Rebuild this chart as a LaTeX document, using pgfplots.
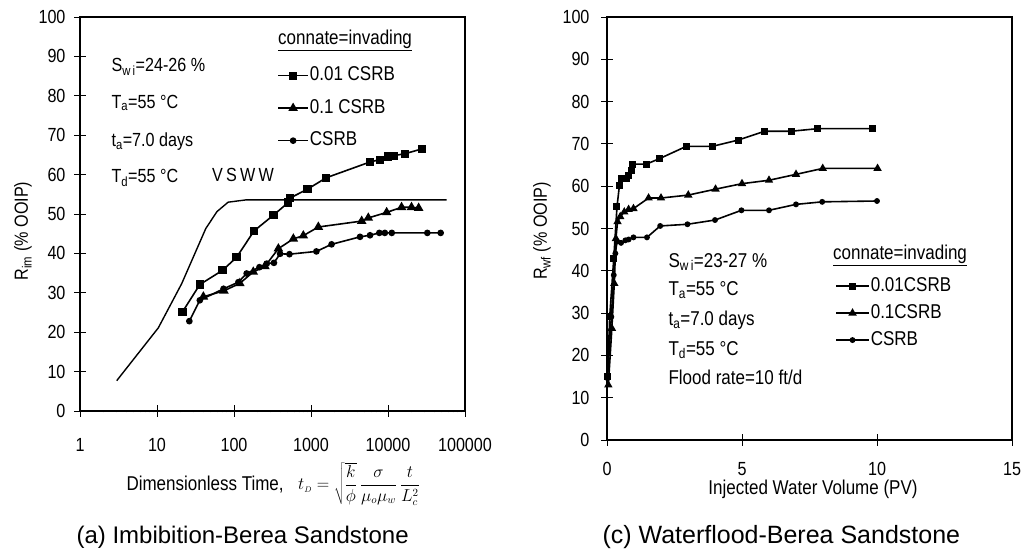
\documentclass[border=0pt]{standalone}
\usepackage{pgfplots}
\pgfplotsset{compat=1.18}
\usepackage{fontspec}
\setmainfont{Liberation Sans}
\newfontfamily\narrow{Liberation Sans}[FakeStretch=0.85]
\newcommand{\tf}{\narrow\fontsize{19}{21}\selectfont}
\newcommand{\lf}{\narrow\fontsize{20}{22}\selectfont}
\begin{document}
\begin{tikzpicture}[x=1pt,y=1pt]
\useasboundingbox (0,0) rectangle (1021,553);
% ---------------- left axis ----------------
\begin{axis}[
  at={(80pt,142pt)}, anchor=south west, scale only axis,
  width=385pt, height=394pt,
  xmode=log, xmin=1, xmax=100000, ymin=0, ymax=100,
  xtick={1,10,100,1000,10000,100000},
  xticklabels={1,10,100,1000,10000,100000},
  ytick={0,10,...,100}, minor xtick={}, minor tick num=0,
  tick align=center, xtick pos=bottom, ytick pos=left,
  major tick length=12pt, tick style={black, line width=0.8pt},
  axis line style={line width=1.8pt},
  /pgf/number format/assume math mode=true,
  tick label style={font=\tf},
  xticklabel style={yshift=-18pt},
  yticklabel style={xshift=-5pt},
  legend style={at={(axis description cs:0.512,0.877)}, anchor=north west,
     draw=none, fill=none, inner sep=0pt, row sep=12.5pt, font=\lf,
     nodes={inner sep=1pt, text height=14pt, text depth=4pt}},
  legend cell align=left,
  legend image code/.code={\draw[mark repeat=2,mark phase=2] plot coordinates {(0pt,0pt) (15pt,0pt) (30pt,0pt)};},
  every axis plot/.append style={black, line width=1.6pt},
]
\addplot[mark=square*, mark size=3.3pt, mark options={solid}] coordinates {
(21.5,25.2) (36,32.1) (71,35.7) (108,39.0) (182,45.7) (325,49.7) (506,52.9) (528,54.0)
(900,56.3) (1580,59.2) (5840,63.2) (7870,63.8) (10000,64.6) (11800,64.8) (16600,65.3) (27400,66.5)};
\addlegendentry{0.01 CSRB}
\addplot[mark=triangle*, mark size=4pt, mark options={solid}] coordinates {
(40,29.0) (74,30.5) (119,32.4) (178,35.3) (252,36.7) (377,41.2) (590,43.7) (795,44.5)
(1245,46.7) (4550,48.2) (5550,49.0) (9600,50.4) (15000,51.7) (20200,51.7) (25000,51.5)};
\addlegendentry{0.1 CSRB}
\addplot[mark=*, mark size=2.5pt, mark options={solid}] coordinates {
(26.3,22.8) (36,28.1) (73,31.0) (114,32.7) (146,34.9) (214,36.5) (266,37.4) (330,37.6)
(397,39.9) (525,39.8) (1175,40.5) (1850,42.3) (4330,44.2) (5840,44.6) (7710,45.2)
(9100,45.2) (11200,45.2) (32400,45.2) (48300,45.2)};
\addlegendentry{CSRB}
\addplot[no marks, line width=1.4pt] coordinates {
(3,7.7) (10.4,21.1) (20.9,32.3) (43,46.3) (60,50.6) (84,53.0) (146,53.6) (57700,53.6)};
\end{axis}
% ---------------- right axis ----------------
\begin{axis}[
  at={(607pt,113pt)}, anchor=south west, scale only axis,
  width=405pt, height=423pt,
  xmin=0, xmax=15, ymin=0, ymax=100,
  xtick={0,5,10,15}, ytick={0,10,...,100},
  tick align=center, xtick pos=bottom, ytick pos=left,
  major tick length=12pt, tick style={black, line width=0.8pt},
  axis line style={line width=1.8pt},
  /pgf/number format/assume math mode=true,
  tick label style={font=\tf},
  xticklabel style={yshift=-13pt},
  yticklabel style={xshift=-8pt},
  legend style={at={(axis description cs:0.563,0.388)}, anchor=north west,
     draw=none, fill=none, inner sep=0pt, row sep=7pt, font=\lf,
     nodes={inner sep=1pt, text height=14pt, text depth=4pt}},
  legend cell align=left,
  legend image code/.code={\draw[mark repeat=2,mark phase=2] plot coordinates {(0pt,0pt) (16.5pt,0pt) (33pt,0pt)};},
  every axis plot/.append style={black, line width=1.6pt},
]
\addplot[mark=square*, mark size=2.7pt, mark options={solid}] coordinates {
(0.02,15.0) (0.1,29.1) (0.25,42.9) (0.37,55.1) (0.46,60.2) (0.52,61.8) (0.71,61.8) (0.8,62.6)
(0.9,63.8) (0.96,65.2) (1.45,65.2) (1.94,66.5) (2.93,69.4) (3.89,69.4) (4.86,70.9)
(5.84,73.0) (6.83,73.0) (7.81,73.6) (9.82,73.6)};
\addlegendentry{0.01CSRB}
\addplot[mark=triangle*, mark size=3.3pt, mark options={solid}] coordinates {
(0.05,13.0) (0.18,26.4) (0.27,37.0) (0.33,47.6) (0.39,51.6) (0.49,52.8) (0.64,53.9) (0.8,54.5)
(0.98,54.7) (1.54,57.2) (2.0,57.2) (3.01,57.9) (4.02,59.3) (5.0,60.6) (6.0,61.4) (7.0,62.8)
(7.99,64.2) (10.02,64.2)};
\addlegendentry{0.1CSRB}
\addplot[mark=*, mark size=2.1pt, mark options={solid}] coordinates {
(0.02,14.6) (0.16,29.1) (0.25,39.0) (0.31,44.1) (0.37,46.9) (0.52,46.6) (0.68,47.2) (0.8,47.4)
(0.98,47.9) (1.48,47.9) (1.97,50.6) (2.98,51.0) (4.0,52.0) (4.98,54.3) (6.0,54.3) (7.0,55.7)
(7.97,56.3) (10.0,56.5)};
\addlegendentry{CSRB}
\end{axis}
% ---------------- texts ----------------
\node[anchor=west, font=\tf] at (108,486) {S\textsubscript{w\,i}=24-26 \%};
\node[anchor=west, font=\tf] at (108,450) {T\textsubscript{a}=55 °C};
\node[anchor=west, font=\tf] at (108,411) {t\textsubscript{a}=7.0 days};
\node[anchor=west, font=\tf] at (108,375) {T\textsubscript{d}=55 °C};
\node[font=\tf] at (243,378) {V\,S\,W\,W};
\node[anchor=west, font=\lf, inner sep=0pt] at (278,513) {\underline{connate=invading}};
\node[rotate=90, font=\tf] at (23,322) {R\textsubscript{im} (\% OOIP)};
\node[anchor=west, font=\lf] at (123,68) {Dimensionless Time,};
\node[anchor=west, font=\fontsize{16}{18}\selectfont, inner sep=0pt] at (298,69) {$\displaystyle t_{\scriptscriptstyle D}=\sqrt{\frac{k}{\phi}}\,\frac{\sigma}{\mu_o\mu_w}\,\frac{t}{L_c^2}$};
\node[anchor=west, font=\fontsize{24}{27}\selectfont] at (73,16) {(a) Imbibition-Berea Sandstone};

\node[anchor=west, font=\lf] at (665,291) {S\textsubscript{w\,i}=23-27 \%};
\node[anchor=west, font=\lf] at (665,263) {T\textsubscript{a}=55 °C};
\node[anchor=west, font=\lf] at (665,233) {t\textsubscript{a}=7.0 days};
\node[anchor=west, font=\lf] at (665,203) {T\textsubscript{d}=55 °C};
\node[anchor=west, font=\lf] at (665,176) {Flood rate=10 ft/d};
\node[anchor=west, font=\lf, inner sep=0pt] at (833,298) {\underline{connate=invading}};
\node[rotate=90, font=\tf] at (542,322) {R\textsubscript{wf} (\% OOIP)};
\node[font=\lf] at (813,64) {Injected Water Volume (PV)};
\node[anchor=west, font=\fontsize{25}{28}\selectfont] at (599,16) {(c) Waterflood-Berea Sandstone};
\end{tikzpicture}
\end{document}
